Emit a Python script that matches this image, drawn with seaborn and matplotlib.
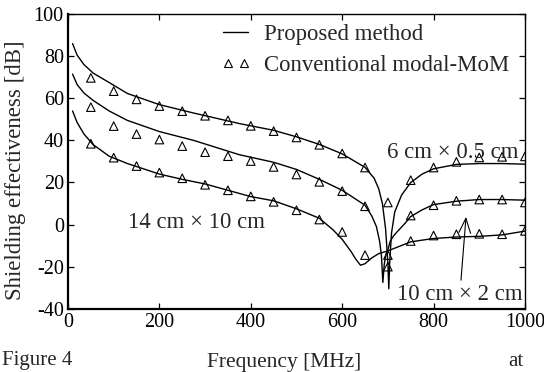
import matplotlib
matplotlib.use("Agg")
import matplotlib.pyplot as plt
import seaborn as sns
import pandas as pd
from matplotlib.lines import Line2D
from matplotlib.legend_handler import HandlerLine2D

# Proposed method (solid curves)
freq_top = [10, 20, 35, 55, 90, 130, 200, 275, 375, 450, 500, 550, 600, 650, 670, 680, 688,
            695, 700, 702, 704, 708, 715, 730, 750, 775, 800, 850, 900, 950, 1000]
se_top = [86, 80.5, 76, 72, 67.5, 62.3, 57, 53, 48, 44.8, 41.7, 38.1, 33.6, 27.2, 22, 17, 10,
          -2, -18, -30.5, -18, -4, 6, 14, 20, 24, 26.5, 28.6, 29, 29, 28.7]

freq_mid = [10, 20, 35, 55, 90, 130, 200, 275, 375, 450, 500, 550, 600, 650, 665, 675, 682,
            686, 689, 692, 696, 700, 705, 712, 720, 735, 750, 775, 800, 850, 900, 950, 1000]
se_mid = [71.5, 66.5, 62.5, 59, 54, 49.5, 44.2, 40, 33.2, 29.6, 26.2, 21.5, 16.3, 9.2, 4, -1, -8,
          -15, -27.5, -19, -14, -12, -8, -5.5, -3.5, 0, 3.8, 7, 9.5, 11.1, 11.9, 11.9, 11.6]

freq_bot = [10, 20, 35, 55, 90, 130, 200, 250, 300, 400, 450, 500, 550, 580, 600, 620, 630,
            640, 650, 665, 680, 700, 750, 800, 850, 900, 950, 1000]
se_bot = [54, 48.5, 43, 38, 32.5, 29, 24, 21.5, 19.3, 13.3, 11.3, 7.5, 3, -2.5, -7, -13, -16.5,
          -19.3, -18.6, -15.8, -13.8, -12.5, -8.2, -6.6, -5.9, -5.6, -4.9, -3.1]

# Conventional modal-MoM (triangles)
freq_mom = [50, 100, 150, 200, 250, 300, 350, 400, 450, 500,
            550, 600, 650, 700, 750, 800, 850, 900, 950, 1000]
mom_top = [69.7, 63.4, 59.5, 56.3, 53.9, 51.7, 49.5, 46.9, 44.4, 41.4,
           37.9, 33.8, 27.1, 10.5, 21.1, 27.1, 29.8, 31.9, 32.2, 32.4]
mom_mid = [55.8, 46.8, 43.0, 40.4, 37.3, 34.4, 32.5, 30.2, 27.4, 23.8,
           20.3, 15.9, 8.7, -20.0, 4.3, 9.2, 11.3, 11.9, 11.9, 10.5]
mom_bot = [38.4, 31.8, 27.8, 24.7, 22.0, 18.9, 16.3, 13.4, 10.8, 6.8,
           2.4, -3.5, -14.5, -14.5, -7.8, -5.2, -4.6, -4.4, -4.6, -3.0]

x_ticks = [0, 200, 400, 600, 800, 1000]
y_ticks = [-40, -20, 0, 20, 40, 60, 80, 100]

sns.set_theme(style="ticks")
plt.rcParams["font.family"] = ["Liberation Serif", "DejaVu Serif"]
plt.rcParams["axes.unicode_minus"] = False
plt.rcParams["font.size"] = 15

FS = 16.4

fig = plt.figure(figsize=(5.44, 3.72), dpi=100)
ax = fig.add_axes([0.125, 0.170, 0.840, 0.792])

for f, s in [(freq_top, se_top), (freq_mid, se_mid), (freq_bot, se_bot)]:
    sns.lineplot(x=f, y=s, ax=ax, color="black", lw=1.0, sort=False, estimator=None)

mom = pd.DataFrame({
    "freq": freq_mom * 3,
    "se": mom_top + mom_mid + mom_bot,
})
sns.scatterplot(data=mom, x="freq", y="se", ax=ax, marker="^", s=38,
                facecolors="none", edgecolor="black", linewidth=0.8, legend=False)

ax.set_xlim(0, 1000)
ax.set_ylim(-40, 100)
ax.set_xticks(x_ticks)
ax.set_yticks(y_ticks)
ax.tick_params(direction="in", length=4, width=0.9, top=True, right=True,
               labelsize=14.5, colors="black", pad=3)
for side in ax.spines.values():
    side.set_linewidth(1.0)
    side.set_color("black")
ax.spines["left"].set_linewidth(1.6)
ax.spines["bottom"].set_linewidth(1.6)

ax.set_xlabel("Frequency [MHz]", fontsize=15.5)
ax.xaxis.set_label_coords(0.473, -0.15)
ax.set_ylabel("Shielding effectiveness [dB]", fontsize=FS)
ax.yaxis.set_label_coords(-0.092, 0.47)

ax.text(698, 34.4, "6 cm × 0.5 cm", fontsize=FS, va="center", ha="left")
ax.text(131, 1.1, "14 cm × 10 cm", fontsize=FS, va="center", ha="left")
ax.text(720, -33.2, "10 cm × 2 cm", fontsize=FS, va="center", ha="left")
ax.annotate("", xy=(871, 3.7), xytext=(860, -26.4),
            arrowprops=dict(arrowstyle="->,head_length=0.7,head_width=0.28",
                            lw=0.8, color="black", shrinkA=0, shrinkB=0))

line_h = Line2D([], [], color="black", lw=1.0)
mark_h = Line2D([], [], color="black", lw=0, marker="^", markersize=6,
                markerfacecolor="none", markeredgewidth=0.8)
ax.legend([line_h, mark_h], ["Proposed method", "Conventional modal-MoM"],
          loc="upper left", bbox_to_anchor=(0.325, 0.968), frameon=False,
          fontsize=FS, numpoints=2, handlelength=1.7, handletextpad=0.4,
          labelspacing=0.45, borderaxespad=0, borderpad=0,
          handler_map={mark_h: HandlerLine2D(marker_pad=0.5)})

fig.text(0.004, 0.006, "Figure 4", fontsize=15, ha="left", va="bottom")
fig.text(0.935, 0.004, "at", fontsize=15, ha="left", va="bottom")

fig.savefig("out.png", dpi=100)
